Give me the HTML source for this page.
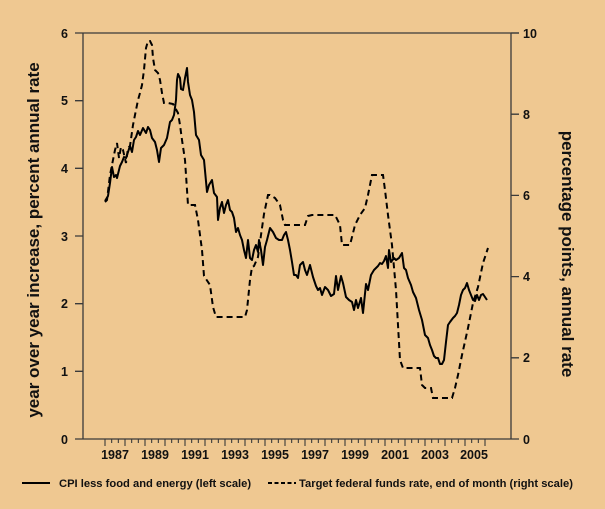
<!DOCTYPE html>
<html><head><style>
html,body{margin:0;padding:0;background:#EFC891;}
svg{display:block;font-family:"Liberation Sans",Arial,sans-serif;font-weight:bold;}
</style></head><body>
<svg width="605" height="509" viewBox="0 0 605 509" xmlns="http://www.w3.org/2000/svg">
<rect width="605" height="509" fill="#EFC891"/>
<g stroke="#3a3a3a" stroke-width="1.3" fill="none">
<line x1="83" y1="33" x2="519" y2="33"/>
<line x1="83" y1="439" x2="519" y2="439"/>
<line x1="83" y1="33" x2="83" y2="439"/>
<line x1="511" y1="33" x2="511" y2="439"/>
<path d="M75 33H83M75 100.7H83M75 168.3H83M75 236H83M75 303.7H83M75 371.3H83M75 439H83"/>
<path d="M511 33H519M511 114.2H519M511 195.4H519M511 276.6H519M511 357.8H519"/>
</g>
<g font-size="12.5" fill="#111" text-anchor="end">
<text x="68" y="38">6</text><text x="68" y="105">5</text><text x="68" y="173">4</text><text x="68" y="241">3</text><text x="68" y="308">2</text><text x="68" y="376">1</text><text x="68" y="444">0</text>
</g>
<g font-size="12.5" fill="#111" text-anchor="start">
<text x="523" y="38">10</text><text x="523" y="119">8</text><text x="523" y="200">6</text><text x="523" y="281">4</text><text x="523" y="362">2</text><text x="523" y="444">0</text>
</g>
<g font-size="12.5" fill="#111" text-anchor="middle">
<text x="115" y="459">1987</text><text x="155" y="459">1989</text><text x="195" y="459">1991</text><text x="235" y="459">1993</text><text x="275" y="459">1995</text><text x="315" y="459">1997</text><text x="355" y="459">1999</text><text x="395" y="459">2001</text><text x="435" y="459">2003</text><text x="474" y="459">2005</text>
</g>
<text transform="translate(39,240) rotate(-90)" font-size="17" text-anchor="middle" fill="#111">year over year increase, percent annual rate</text>
<text transform="translate(562,254) rotate(90)" font-size="17" text-anchor="middle" fill="#111">percentage points, annual rate</text>
<g id="xt" stroke="#3a3a3a" stroke-width="1.1"></g>
<polyline fill="none" stroke="#000" stroke-width="2" stroke-linejoin="round" points="105,201 108,196 110,183 112,167 114,177 116,175 117,178 120,166 122,162 124,157 126,158 128,152 130,146 132,152 134,140 136,137 138,131 140,135 143,128 146,133 148,127 150,130 152,138 155,142 157,150 159,162 161,148 164,145 167,138 170,122 172,120 174,115 176,100 177,80 178,74 180,78 181,89 183,90 185,78 187,68 188,82 190,95 192,100 194,112 196,135 199,140 201,155 204,160 207,192 209,185 212,180 214,193 217,197 218,220 220,208 222,202 224,213 226,205 228,200 230,210 232,212 234,218 236,232 238,228 240,235 242,240 244,250 246,258 248,240 250,258 252,260 254,250 256,245 258,252 259,240 261,250 263,265 265,247 267,240 270,228 273,232 276,238 279,240 282,240 284,235 286,232 288,240 290,250 292,262 294,275 296,275 298,278 300,265 303,262 305,270 307,275 310,265 313,277 316,286 318,290 320,288 322,295 325,287 328,290 331,296 334,294 336,276 338,290 341,276 343,283 346,297 349,300 352,302 354,310 356,300 358,308 361,298 363,313 366,284 368,290 371,275 374,270 376,268 378,266 380,263 382,264 384,261 386,256 388,268 389,250 391,262 394,258 396,260 399,258 402,253 404,268 406,270 408,278 411,285 413,292 416,298 419,310 422,320 425,335 428,338 430,345 432,350 434,356 436,358 438,358 440,364 442,364 444,360 446,342 448,325 450,322 453,318 455,316 457,313 459,305 461,295 463,290 465,288 467,283 469,290 471,295 473,300 475,301 477,295 479,300 481,295 483,294 485,297 487,300"/>
<polyline fill="none" stroke="#000" stroke-width="2" stroke-dasharray="6,4" points="105,202 107,200 110,175 115,150 117,143 119,158 121,147 123,150 126,163 128,148 130,146 133,125 136,110 138,100 140,93 142,85 144,70 146,48 148,41 150,41 152,45 153,58 155,70 158,73 160,80 162,93 164,103 168,103 173,104 178,113 180,125 182,140 185,160 188,205 195,205 198,220 202,250 204,276 210,285 213,307 216,317 221,317 245,317 247,310 250,280 252,267 254,266 258,257 261,235 264,214 268,195 270,195 275,198 280,205 283,220 285,225 305,225 308,216 312,215 335,215 340,225 342,245 350,245 355,225 360,215 365,208 368,195 372,175 383,175 385,190 388,215 392,245 396,290 398,325 400,360 403,368 420,368 422,385 425,388 431,388 433,398 452,398 455,388 458,375 462,355 468,328 473,303 478,287 483,263 488,248"/>
<line x1="22" y1="483" x2="50" y2="483" stroke="#000" stroke-width="2"/>
<text x="59" y="487" font-size="11.2" fill="#111">CPI less food and energy (left scale)</text>
<line x1="268" y1="483" x2="296" y2="483" stroke="#000" stroke-width="2" stroke-dasharray="4,2.5"/>
<text x="299" y="487" font-size="11.2" fill="#111">Target federal funds rate, end of month (right scale)</text>
<script>
(function(){var g=document.getElementById('xt'),ns='http://www.w3.org/2000/svg';
for(var i=0;i<=57;i++){var x=105+i*20/3;var l=document.createElementNS(ns,'line');
l.setAttribute('x1',x);l.setAttribute('x2',x);l.setAttribute('y1',439);l.setAttribute('y2',i%3==0?446:443);g.appendChild(l);}})();
</script>
</svg>
</body></html>
